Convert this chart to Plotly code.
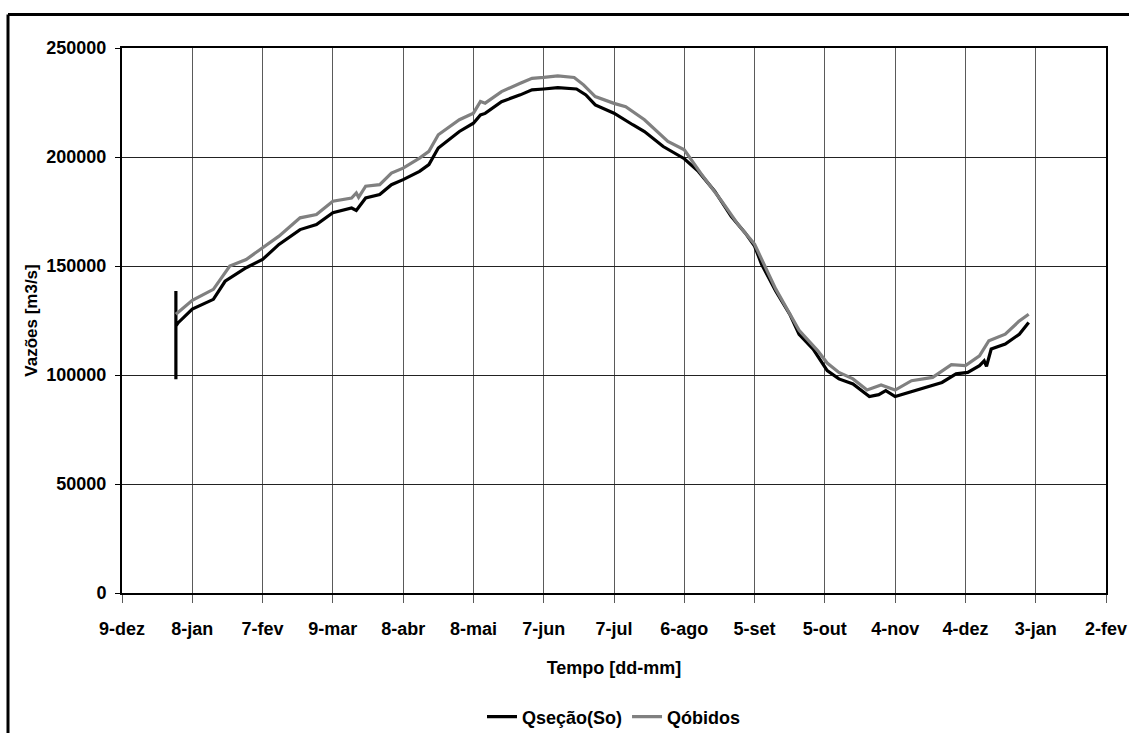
import datetime as dt
import plotly.graph_objects as go

# ---- data (day of year 2005, values in m3/s) ----
secao_doy = [0, 0, 0, 1, 7, 16, 21, 30, 37, 44, 53, 60, 67, 75, 77, 81, 87, 92, 97, 104, 108, 112,
             121, 127, 130, 132, 139, 147, 152, 157, 163, 171, 175, 179, 187, 195, 200, 208, 217,
             223, 230, 237, 243, 247, 250, 256, 262, 266, 272, 278, 283, 289, 296, 300, 303, 307,
             313, 320, 327, 333, 338, 343, 345, 346, 348, 354, 360, 364]
secao_val = [98000, 138500, 122500, 124000, 130200, 134700, 143000, 149200, 153000, 159900, 166700,
             169000, 174400, 176600, 175500, 181200, 182800, 187300, 189600, 193400, 196500, 204100,
             211700, 215500, 219300, 220000, 225400, 228500, 230800, 231200, 231800, 231200, 228500,
             223900, 220100, 214800, 211700, 204800, 199200, 193400, 184300, 172800, 165200, 159100,
             150800, 138500, 127900, 118700, 111900, 102000, 98200, 95900, 90100, 91000, 92800, 90100,
             92000, 94300, 96600, 100500, 101200, 104300, 106500, 104000, 111900, 114200, 118700, 124100]

obidos_doy = [0, 7, 16, 23, 30, 37, 44, 53, 60, 67, 75, 77, 78, 81, 87, 92, 97, 104, 108, 112, 121,
              127, 130, 132, 139, 147, 152, 157, 163, 170, 174, 179, 187, 192, 200, 210, 217, 224,
              233, 240, 247, 256, 266, 274, 278, 283, 289, 295, 301, 307, 314, 323, 331, 337, 343,
              347, 354, 360, 364]
obidos_val = [127900, 134300, 139300, 150000, 153000, 158300, 163700, 172100, 173600, 179700, 181200,
              183500, 181500, 186600, 187300, 192600, 194900, 199500, 202600, 210200, 217100, 220100,
              225500, 224700, 230000, 233800, 236100, 236500, 237200, 236500, 233100, 227700, 224600,
              223100, 217100, 207100, 203300, 192600, 179700, 169000, 160000, 139500, 120500, 111100,
              105500, 101200, 98200, 93100, 95400, 93100, 97400, 98900, 104700, 104300, 108800, 115700,
              118700, 124800, 127900]

tick_dates = ["2004-12-09", "2005-01-08", "2005-02-07", "2005-03-09", "2005-04-08", "2005-05-08",
              "2005-06-07", "2005-07-07", "2005-08-06", "2005-09-05", "2005-10-05", "2005-11-04",
              "2005-12-04", "2006-01-03", "2006-02-02"]
tick_labels = ["9-dez", "8-jan", "7-fev", "9-mar", "8-abr", "8-mai", "7-jun", "7-jul", "6-ago",
               "5-set", "5-out", "4-nov", "4-dez", "3-jan", "2-fev"]
y_ticks = [0, 50000, 100000, 150000, 200000, 250000]

start = dt.date(2005, 1, 1)
def to_dates(doys):
    return [(start + dt.timedelta(days=d)).isoformat() for d in doys]

FONT = "Liberation Sans, Arial, sans-serif"
TF = dict(family=FONT, size=18, color="black", weight="bold")

fig = go.Figure()
fig.add_trace(go.Scatter(x=to_dates(secao_doy), y=secao_val, mode="lines", name="Qseção(So)",
                         line=dict(color="#000000", width=3.2)))
fig.add_trace(go.Scatter(x=to_dates(obidos_doy), y=obidos_val, mode="lines", name="Qóbidos",
                         line=dict(color="#808080", width=3.2)))

W, H = 1129, 733
L, T = 122, 48
R = W - 1106
B = H - 593
pw, ph = W - L - R, H - T - B

fig.update_layout(
    width=W, height=H,
    margin=dict(l=L, r=R, t=T, b=B, autoexpand=False),
    paper_bgcolor="white", plot_bgcolor="white",
    font=TF,
    showlegend=True,
    legend=dict(orientation="h", x=0.5, xanchor="center", y=-(717 - 593) / ph, yanchor="middle",
                font=TF, tracegroupgap=0, bgcolor="rgba(0,0,0,0)"),
    xaxis=dict(type="date", range=["2004-12-09", "2006-02-02"], tickvals=tick_dates, ticktext=tick_labels,
               showgrid=True, gridcolor="#5a5a5a", gridwidth=1,
               ticks="outside", ticklen=8, tickcolor="#5a5a5a", tickwidth=1,
               ticklabelstandoff=10,
               showline=True, linecolor="black", linewidth=2, mirror=True, zeroline=False,
               tickfont=TF,
               title=dict(text="Tempo [dd-mm]", standoff=24, font=TF)),
    yaxis=dict(range=[0, 250000], tickvals=y_ticks, ticktext=[str(v) for v in y_ticks],
               showgrid=True, gridcolor="#222222", gridwidth=1,
               ticks="outside", ticklen=5, tickcolor="black", tickwidth=1,
               ticklabelstandoff=5,
               showline=True, linecolor="black", linewidth=2, mirror=True, zeroline=False,
               tickfont=TF,
               title=dict(text="Vazões [m3/s]", standoff=4,
                          font=dict(family=FONT, size=17, color="black", weight="bold"))),
)

# outer frame (top and left edges visible in the crop)
fx = (8 - L) / pw
fy = (H - B - 14.5) / ph
fig.add_shape(type="line", xref="paper", yref="paper", x0=fx, x1=1.2, y0=fy, y1=fy,
              line=dict(color="black", width=3))
fig.add_shape(type="line", xref="paper", yref="paper", x0=fx, x1=fx, y0=fy, y1=-0.5,
              line=dict(color="black", width=3))

fig.write_html("out.html", config={"displayModeBar": False},
               post_script="document.body.style.margin='0';document.body.style.overflow='hidden';")
